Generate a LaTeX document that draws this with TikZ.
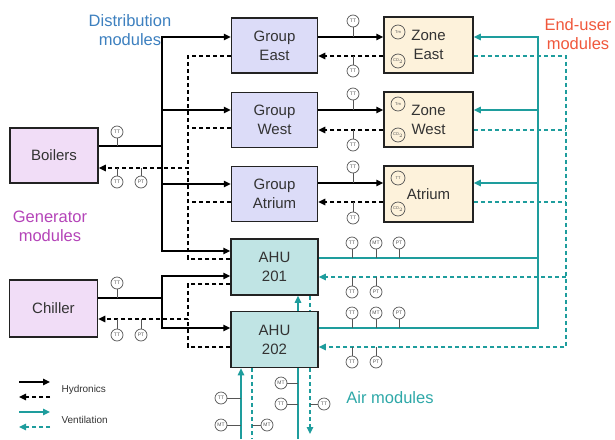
\documentclass[tikz,border=0pt]{standalone}
\usepackage{fontspec}
\setmainfont{Liberation Sans}
\usetikzlibrary{arrows.meta}
\definecolor{grpfill}{HTML}{DCDCF8}
\definecolor{zonefill}{HTML}{FDF2DB}
\definecolor{ahufill}{HTML}{C0E4E4}
\definecolor{genfill}{HTML}{F1DDF7}
\definecolor{boxline}{HTML}{222222}
\definecolor{boxtext}{HTML}{333333}
\definecolor{vent}{HTML}{1E9D9D}
\definecolor{sengray}{HTML}{555555}
\definecolor{distblue}{HTML}{3D80BF}
\definecolor{enduser}{HTML}{F0583C}
\definecolor{genpurple}{HTML}{B444B8}
\definecolor{airteal}{HTML}{2EA8A8}
\tikzset{
  box/.style={draw=boxline,line width=1.5pt,minimum width=86pt,minimum height=55pt,
    align=center,text=boxtext,font=\fontsize{15}{19}\selectfont,inner sep=0pt},
  grp/.style={box,fill=grpfill},
  zone/.style={box,fill=zonefill,minimum width=89pt},
  ahu/.style={box,fill=ahufill,minimum width=87pt},
  gen/.style={box,fill=genfill,minimum width=88pt},
  hyd/.style={line width=1.5pt,black},
  ret/.style={hyd,dash pattern=on 4pt off 3pt},
  vsup/.style={line width=1.5pt,vent},
  vret/.style={vsup,dash pattern=on 4pt off 3pt},
  sen/.style={circle,draw=sengray,line width=0.7pt,fill=white,minimum size=12pt,
    inner sep=0pt,font=\fontsize{5}{5}\selectfont,text=sengray},
  zsen/.style={sen,fill=none,minimum size=14pt,font=\fontsize{4}{4}\selectfont},
  stem/.style={draw=sengray,line width=0.7pt},
  title/.style={align=center,font=\fontsize{16.5}{19}\selectfont},
  legtext/.style={anchor=west,text=boxtext,font=\fontsize{10}{12}\selectfont}
}
\begin{document}
\begin{tikzpicture}[x=1pt,y=-1pt,>={Triangle[length=7pt,width=6.5pt]}]
\useasboundingbox (0,0) rectangle (615,439);
% modules
\node[gen] (boil) at (54,155.5) {Boilers};
\node[gen,minimum height=57pt] (chil) at (53.5,308.5) {Chiller};
\node[grp] (gE) at (274.5,45.5) {Group\\East};
\node[grp] (gW) at (274.5,120) {Group\\West};
\node[grp] (gA) at (274.5,194) {Group\\Atrium};
\node[ahu,minimum height=56pt] (a1) at (274.5,267) {AHU\\201};
\node[ahu,minimum height=56pt] (a2) at (274.5,339.5) {AHU\\202};
\node[zone,minimum height=56pt] (zE) at (428.5,45) {Zone\\East};
\node[zone] (zW) at (428.5,119.5) {Zone\\West};
\node[zone,minimum height=56pt] (zA) at (428.5,194) {Atrium};
% zone sensors
\node[zsen] (zEt) at (398,32) {Tm};
\node[zsen] (zEc) at (398,61) {CO$_2$};
\node[zsen] (zWt) at (398,104) {Tm};
\node[zsen] (zWc) at (398,135) {CO$_2$};
\node[zsen] (zAt) at (398,178) {TT};
\node[zsen] (zAc) at (398,209) {CO$_2$};
% hydronics, boilers
\draw[hyd] (boil.east |- 0,146) -- (162,146);
\draw[hyd,->] (162,146) |- (gE.west |- 0,37);
\draw[hyd,->] (162,110) -- (gW.west |- 0,110);
\draw[hyd,->] (162,146) |- (gA.west |- 0,184);
\draw[hyd,->] (162,184) |- (a1.west |- 0,251);
\draw[ret,->] (gE.west |- 0,56) -| (188,168) -- (boil.east |- 0,168);
\draw[ret] (gW.west |- 0,128) -- (188,128);
\draw[ret] (gA.west |- 0,202) -- (188,202);
\draw[ret] (a1.west |- 0,259) -| (188,168);
% hydronics, chiller
\draw[hyd] (chil.east |- 0,298) -- (162,298);
\draw[hyd,->] (162,298) |- (a1.west |- 0,276);
\draw[hyd,->] (162,298) |- (a2.west |- 0,328);
\draw[ret,->] (a1.west |- 0,284) -| (188,319) -- (chil.east |- 0,319);
\draw[ret] (a2.west |- 0,347) -| (188,319);
% groups to zones
\draw[hyd,->] (gE.east |- 0,37) -- (zE.west |- 0,37);
\draw[ret,->] (zE.west |- 0,56) -- (gE.east |- 0,56);
\draw[hyd,->] (gW.east |- 0,110) -- (zW.west |- 0,110);
\draw[ret,->] (zW.west |- 0,130) -- (gW.east |- 0,130);
\draw[hyd,->] (gA.east |- 0,183) -- (zA.west |- 0,183);
\draw[ret,->] (zA.west |- 0,202) -- (gA.east |- 0,202);
% ventilation
\draw[vsup] (a1.east |- 0,258) -- (538,258);
\draw[vsup,->] (a2.east |- 0,328) -| (538,37) -- (zE.east |- 0,37);
\draw[vsup,->] (538,110) -- (zW.east |- 0,110);
\draw[vsup,->] (538,183) -- (zA.east |- 0,183);
\draw[vret,->] (zE.east |- 0,56) -| (566,347) -- (a2.east |- 0,347);
\draw[vret] (zW.east |- 0,130) -- (566,130);
\draw[vret] (zA.east |- 0,202) -- (566,202);
\draw[vret,->] (566,277) -- (a1.east |- 0,277);
\draw[vsup,->] (a2.north -| 298,0) -- (a1.south -| 298,0);
\draw[vret] (a1.south -| 310,0) -- (a2.north -| 310,0);
\draw[vsup,->] (241,439) -- (a2.south -| 241,0);
\draw[vret] (a2.south -| 252,0) -- (252,439);
\draw[vsup] (a2.south -| 298,0) -- (298,439);
\draw[vret,->] (a2.south -| 310,0) -- (310,434);
% sensors
\node[sen] (bT) at (117,132) {TT};
\draw[stem] (bT.south) -- (bT |- 0,146);
\node[sen] (bRT) at (117,182) {TT};
\node[sen] (bRP) at (141,182) {PT};
\draw[stem] (bRT.north) -- (bRT |- 0,168);
\draw[stem] (bRP.north) -- (bRP |- 0,168);
\node[sen] (cT) at (117,283) {TT};
\draw[stem] (cT.south) -- (cT |- 0,298);
\node[sen] (cRT) at (117,335) {TT};
\node[sen] (cRP) at (141,335) {PT};
\draw[stem] (cRT.north) -- (cRT |- 0,319);
\draw[stem] (cRP.north) -- (cRP |- 0,319);
\foreach \n/\ys/\yl in {eS/21/37,wS/94/110,aS/167/183}{
  \node[sen] (\n) at (353,\ys) {TT};
  \draw[stem] (\n.south) -- (\n |- 0,\yl);
}
\foreach \n/\ys/\yl in {eR/71/56,wR/145/130,aR/218/202}{
  \node[sen] (\n) at (353,\ys) {TT};
  \draw[stem] (\n.north) -- (\n |- 0,\yl);
}
\foreach \s/\x in {TT/352,MT/376,PT/399}{
  \node[sen] (s1\s) at (\x,243) {\s};
  \draw[stem] (s1\s.south) -- (s1\s |- 0,258);
  \node[sen] (s2\s) at (\x,313) {\s};
  \draw[stem] (s2\s.south) -- (s2\s |- 0,328);
}
\foreach \s/\x in {TT/352,PT/376}{
  \node[sen] (r1\s) at (\x,292) {\s};
  \draw[stem] (r1\s.north) -- (r1\s |- 0,277);
  \node[sen] (r2\s) at (\x,362) {\s};
  \draw[stem] (r2\s.north) -- (r2\s |- 0,347);
}
\node[sen] (oT) at (221,398) {TT};
\draw[stem] (oT.east) -- (241,398);
\node[sen] (oM) at (221,425) {MT};
\draw[stem] (oM.east) -- (241,425);
\node[sen] (rM) at (267,425) {MT};
\draw[stem] (rM.west) -- (252,425);
\node[sen] (eM) at (281,383) {MT};
\draw[stem] (eM.east) -- (298,383);
\node[sen] (eT) at (281,404) {TT};
\draw[stem] (eT.east) -- (298,404);
\node[sen] (xT) at (324,404) {TT};
\draw[stem] (xT.west) -- (310,404);
% titles
\node[title,text=distblue] (tdist) at (130,30) {Distribution\\modules};
\node[title,text=enduser] (tend) at (578,34) {End-user\\modules};
\node[title,text=genpurple] (tgen) at (50,226.5) {Generator\\modules};
\node[title,text=airteal] (tair) at (390,398) {Air modules};
% legend
\coordinate (l1a) at (19,382); \coordinate (l1b) at (50,382);
\coordinate (l2a) at (19,397); \coordinate (l2b) at (50,397);
\coordinate (l3a) at (19,412); \coordinate (l3b) at (50,412);
\coordinate (l4a) at (19,427); \coordinate (l4b) at (50,427);
\draw[hyd,->] (l1a) -- (l1b);
\draw[ret,->] (l2b) -- (l2a);
\draw[vsup,->] (l3a) -- (l3b);
\draw[vret,->] (l4b) -- (l4a);
\node[legtext] (lhyd) at (58,390) {Hydronics};
\node[legtext] (lvent) at (58,420) {Ventilation};
\end{tikzpicture}
\end{document}
